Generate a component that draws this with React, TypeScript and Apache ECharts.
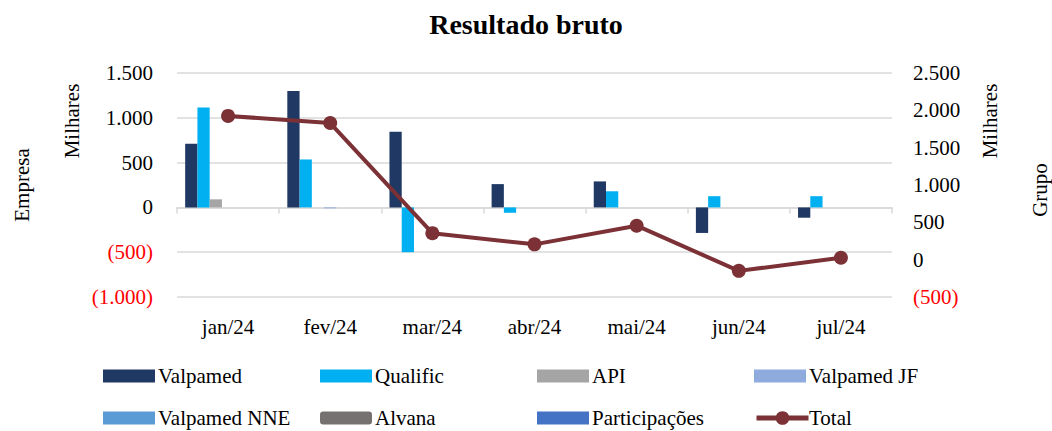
import React, { useEffect, useRef } from "react";
import * as echarts from "echarts";

const months = ["jan/24", "fev/24", "mar/24", "abr/24", "mai/24", "jun/24", "jul/24"];
const valpamed = [710, 1300, 845, 260, 290, -285, -115];
const qualific = [1115, 535, -500, -60, 180, 125, 125];
const api = [90, 0, 0, 0, 0, 0, 0];
const valpamedJF = [0, -10, 0, 0, 0, 0, 0];
const valpamedNNE = [0, 0, 0, 0, 0, 0, 0];
const alvana = [0, 0, 0, 0, 0, 0, 0];
const participacoes = [0, 0, 0, 0, 0, 0, 0];
const total = [1925, 1830, 355, 205, 455, -150, 25];

const FONT = "Liberation Serif";

const fmtNum = (v: number) => {
  const s = String(Math.round(Math.abs(v))).replace(/\B(?=(\d{3})+(?!\d))/g, ".");
  return v < 0 ? `{n|(${s})}` : `{p|${s}}`;
};
const rich = {
  n: { color: "#FF0000", fontSize: 21, fontFamily: FONT },
  p: { color: "#000000", fontSize: 21, fontFamily: FONT },
};

export default function App() {
  const ref = useRef<HTMLDivElement>(null);
  useEffect(() => {
    if (!ref.current) return;
    const chart = echarts.init(ref.current, null, { renderer: "svg" });
    const barDefs = [
      { name: "Valpamed", data: valpamed, color: "#1F3864" },
      { name: "Qualific", data: qualific, color: "#00B0F0" },
      { name: "API", data: api, color: "#A5A5A5" },
      { name: "Valpamed JF", data: valpamedJF, color: "#8FAADC" },
      { name: "Valpamed NNE", data: valpamedNNE, color: "#5B9BD5" },
      { name: "Alvana", data: alvana, color: "#767171" },
      { name: "Participações", data: participacoes, color: "#4472C4" },
    ];
    const lineColor = "#7B3135";
    const legendNames = [...barDefs.map((b) => b.name), "Total"];
    const legendPos = legendNames.map((name, i) => ({
      name,
      x: 103 + (i % 4) * 217,
      cy: 376 + Math.floor(i / 4) * 42,
    }));
    const legends = legendPos.map(({ name, x, cy }) => {
      const isLine = name === "Total";
      const h = isLine ? 17 : 13;
      return {
        orient: "horizontal",
        left: x,
        top: cy - h / 2,
        padding: 0,
        itemWidth: 52,
        itemHeight: h,
        itemGap: 0,
        formatter: () => "",
        textStyle: { fontFamily: FONT, fontSize: 21, color: "#000" },
        data: [isLine ? { name, lineStyle: { width: 5 } } : { name, icon: name === "Alvana" ? "roundRect" : "rect" }],
      };
    });
    const legendTexts = legendPos.map(({ name, x, cy }) => ({
      type: "text",
      x: x + 55,
      y: cy,
      style: { text: name, fontFamily: FONT, fontSize: 21, fill: "#000", textAlign: "left", textVerticalAlign: "middle" },
    }));
    const vText = (text: string, x: number, y: number) => ({
      type: "text",
      x,
      y,
      rotation: Math.PI / 2,
      style: { text, fontFamily: FONT, fontSize: 21, fill: "#000", textAlign: "center", textVerticalAlign: "middle" },
    });
    chart.setOption({
      animation: false,
      textStyle: { fontFamily: FONT },
      title: {
        text: "Resultado bruto",
        left: "center",
        top: 5,
        textStyle: { fontFamily: FONT, fontSize: 28, fontWeight: "bold", color: "#000" },
      },
      grid: { left: 177, right: 160, top: 73, bottom: 134, outerBoundsMode: "none" },
      legend: legends,
      xAxis: [
        {
          type: "category",
          data: months,
          axisLine: { onZero: true, onZeroAxisIndex: 0, lineStyle: { color: "#D9D9D9", width: 1.5 } },
          axisTick: { show: true, length: 6, lineStyle: { color: "#D9D9D9", width: 1.5 } },
          axisLabel: { show: false },
        },
        {
          type: "category",
          data: months,
          position: "bottom",
          axisLine: { show: false, onZero: false },
          axisTick: { show: false },
          axisLabel: { show: true, fontFamily: FONT, fontSize: 21, color: "#000", margin: 19 },
        },
      ],
      yAxis: [
        {
          type: "value",
          min: -1000,
          max: 1500,
          interval: 500,
          axisLine: { show: false },
          axisTick: { show: false },
          splitLine: { show: true, lineStyle: { color: "#D9D9D9", width: 1.5 } },
          axisLabel: { formatter: fmtNum, rich, margin: 24 },
        },
        {
          type: "value",
          min: -500,
          max: 2500,
          interval: 500,
          axisLine: { show: false },
          axisTick: { show: false },
          splitLine: { show: false },
          axisLabel: { formatter: fmtNum, rich, margin: 21 },
        },
      ],
      series: [
        ...barDefs.map((b) => ({
          name: b.name,
          type: "bar",
          xAxisIndex: 0,
          yAxisIndex: 0,
          data: b.data,
          barGap: "0%",
          barCategoryGap: "16%",
          itemStyle: { color: b.color },
        })),
        {
          name: "Total",
          type: "line",
          xAxisIndex: 0,
          yAxisIndex: 1,
          data: total,
          symbol: "circle",
          symbolSize: 14,
          lineStyle: { color: lineColor, width: 4 },
          itemStyle: { color: lineColor },
          z: 5,
        },
      ],
      graphic: [
        vText("Empresa", 22, 185),
        vText("Milhares", 72, 121),
        vText("Milhares", 990, 121),
        vText("Grupo", 1040, 190),
        ...legendTexts,
      ],
    });
    return () => chart.dispose();
  }, []);
  return (
    <div
      ref={ref}
      style={{ position: "fixed", left: 0, top: 0, width: 1052, height: 431, background: "#fff" }}
    />
  );
}
